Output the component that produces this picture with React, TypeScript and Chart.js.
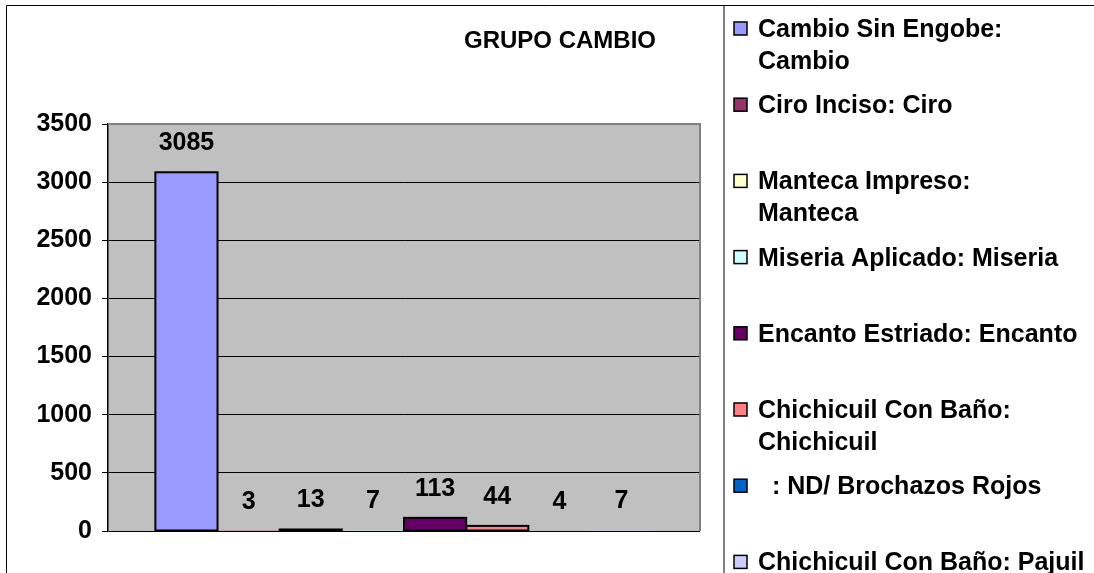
import React, { useEffect, useRef } from 'react';
import { Chart, registerables } from 'chart.js';

Chart.register(...registerables);

const titleText = 'GRUPO CAMBIO';
const categories = ['GRUPO CAMBIO'];
const seriesNames = [
  'Cambio Sin Engobe: Cambio',
  'Ciro Inciso: Ciro',
  'Manteca Impreso: Manteca',
  'Miseria Aplicado: Miseria',
  'Encanto Estriado: Encanto',
  'Chichicuil Con Baño: Chichicuil',
  '  : ND/ Brochazos Rojos',
  'Chichicuil Con Baño: Pajuil',
];
const legendLines = [
  ['Cambio Sin Engobe:', 'Cambio'],
  ['Ciro Inciso: Ciro'],
  ['Manteca Impreso:', 'Manteca'],
  ['Miseria Aplicado: Miseria'],
  ['Encanto Estriado: Encanto'],
  ['Chichicuil Con Baño:', 'Chichicuil'],
  ['  : ND/ Brochazos Rojos'],
  ['Chichicuil Con Baño: Pajuil'],
];
const seriesValues = [3085, 3, 13, 7, 113, 44, 4, 7];
const seriesColors = ['#9999FF', '#993366', '#FFFFCC', '#CCFFFF', '#660066', '#FF8080', '#0066CC', '#CCCCFF'];
const yMin = 0;
const yMax = 3500;
const yStep = 500;

const FAMILY = "'Liberation Sans', Arial, sans-serif";
const FONT = `bold 25px ${FAMILY}`;

const decorPlugin = {
  id: 'decor',
  beforeDraw(chart: any) {
    const { ctx, chartArea } = chart;
    ctx.save();
    ctx.fillStyle = '#FFFFFF';
    ctx.fillRect(0, 0, chart.width, chart.height);
    ctx.fillStyle = '#C0C0C0';
    ctx.fillRect(chartArea.left, chartArea.top, chartArea.right - chartArea.left, chartArea.bottom - chartArea.top);
    ctx.strokeStyle = '#000000';
    ctx.lineWidth = 1;
    ctx.beginPath();
    ctx.moveTo(6.5, chart.height);
    ctx.lineTo(6.5, 5.5);
    ctx.lineTo(chart.width, 5.5);
    ctx.stroke();
    ctx.strokeStyle = '#808080';
    ctx.lineWidth = 2;
    ctx.beginPath();
    ctx.moveTo(724, 6);
    ctx.lineTo(724, chart.height);
    ctx.stroke();
    ctx.restore();
  },
  afterDatasetsDraw(chart: any) {
    const { ctx, chartArea } = chart;
    ctx.save();
    ctx.strokeStyle = '#000000';
    ctx.lineWidth = 2;
    chart.data.datasets.forEach((ds: any, i: number) => {
      const meta = chart.getDatasetMeta(i);
      meta.data.forEach((bar: any) => {
        const p = bar.getProps(['x', 'y', 'base', 'width'], true);
        if (p.base - p.y < 1) return;
        ctx.strokeRect(p.x - p.width / 2, p.y, p.width, p.base - p.y);
      });
    });
    ctx.strokeStyle = '#808080';
    ctx.lineWidth = 2;
    ctx.beginPath();
    ctx.moveTo(chartArea.left, chartArea.top);
    ctx.lineTo(chartArea.right, chartArea.top);
    ctx.lineTo(chartArea.right, chartArea.bottom);
    ctx.stroke();
    ctx.font = FONT;
    ctx.fillStyle = '#000000';
    ctx.textAlign = 'center';
    ctx.textBaseline = 'alphabetic';
    chart.data.datasets.forEach((ds: any, i: number) => {
      const meta = chart.getDatasetMeta(i);
      meta.data.forEach((bar: any, j: number) => {
        ctx.fillText(String(ds.data[j]), bar.x, bar.y - 31 + 9);
      });
    });
    ctx.font = `bold 24px ${FAMILY}`;
    ctx.fillText(titleText, 560, 39 + 8.5);
    ctx.font = FONT;
    ctx.textAlign = 'left';
    legendLines.forEach((lines, i) => {
      const cy = 28 + i * 76.2;
      ctx.fillStyle = seriesColors[i];
      ctx.fillRect(734, cy - 6, 13, 13);
      ctx.strokeStyle = '#000000';
      ctx.lineWidth = 1.5;
      ctx.strokeRect(734, cy - 6, 13, 13);
      ctx.fillStyle = '#000000';
      lines.forEach((t, k) => {
        ctx.fillText(t, 758, cy + 9 + k * 32);
      });
    });
    ctx.restore();
  },
};

export default function App() {
  const ref = useRef<HTMLCanvasElement | null>(null);
  useEffect(() => {
    if (!ref.current) return;
    const chart = new Chart(ref.current, {
      type: 'bar',
      data: {
        labels: categories,
        datasets: seriesNames.map((name, i) => ({
          label: name,
          data: [seriesValues[i]],
          backgroundColor: seriesColors[i],
          borderWidth: 0,
          categoryPercentage: 0.84,
          barPercentage: 1,
        })),
      },
      options: {
        responsive: false,
        animation: false,
        layout: { padding: { left: 0, top: 124, right: 394, bottom: 42 } },
        plugins: {
          legend: { display: false },
          title: { display: false },
          tooltip: { enabled: false },
        },
        scales: {
          x: { display: false },
          y: {
            min: yMin,
            max: yMax,
            afterFit: (s: any) => { s.width = 108; },
            ticks: {
              stepSize: yStep,
              color: '#000000',
              padding: 10,
              callback: (v: any) => String(v),
              font: { family: FAMILY, size: 25, weight: 'bold' },
            },
            grid: {
              color: (c: any) => (c.tick && c.tick.value === yMax ? '#808080' : '#000000'),
              lineWidth: 1,
              tickLength: 6,
              tickColor: '#000000',
            },
            border: { color: '#000000', width: 1.5 },
          },
        },
      },
      plugins: [decorPlugin],
    });
    return () => chart.destroy();
  }, []);
  return (
    <div style={{ position: 'absolute', left: 0, top: 0, width: 1094, height: 573 }}>
      <canvas ref={ref} width={1094} height={573} style={{ display: 'block' }} />
    </div>
  );
}
